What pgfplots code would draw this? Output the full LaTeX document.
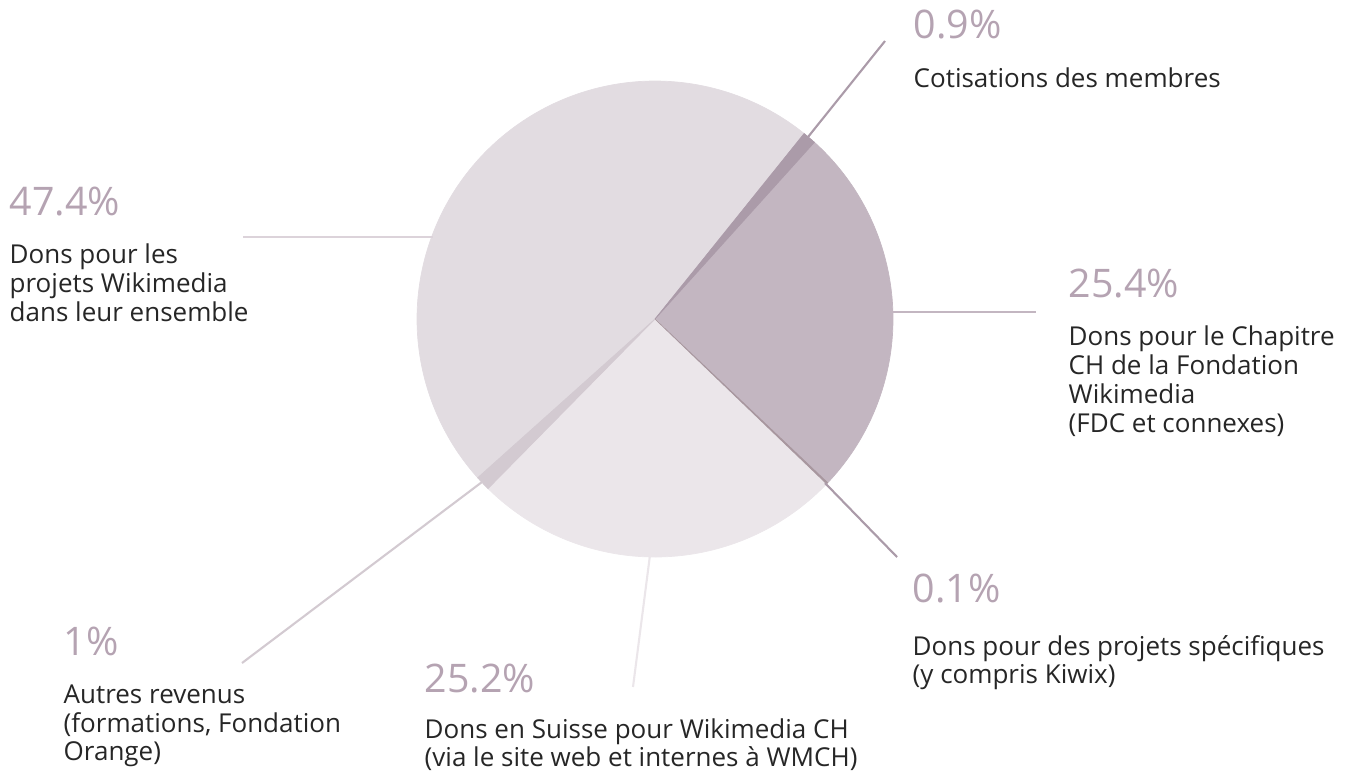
\documentclass[border=0pt]{standalone}
\usepackage{pgfplots}
\pgfplotsset{compat=1.18}
\usepackage{fontspec}
\setmainfont{Open Sans}
\definecolor{cA}{HTML}{AB9BA9}
\definecolor{cB}{HTML}{C3B6C1}
\definecolor{cC}{HTML}{A8979F}
\definecolor{cD}{HTML}{EBE6EA}
\definecolor{cE}{HTML}{D3CAD1}
\definecolor{cF}{HTML}{E2DCE1}
\definecolor{pct}{HTML}{B5A3B2}
\definecolor{txt}{HTML}{262626}
\definecolor{lF}{HTML}{DCD3DA}
\begin{document}
\begin{tikzpicture}
% shares (percent), clockwise from the start angle
\def\vA{0.9}\def\vB{25.4}\def\vC{0.1}\def\vD{25.2}\def\vE{1}\def\vF{47.4}
\def\sA{51.2}
\pgfmathsetmacro\sB{\sA-3.6*\vA}
\pgfmathsetmacro\sC{\sB-3.6*\vB}
\pgfmathsetmacro\sD{\sC-3.6*\vC}
\pgfmathsetmacro\sE{\sD-3.6*\vD}
\pgfmathsetmacro\sF{\sE-3.6*\vE}
\pgfmathsetmacro\sG{\sF-3.6*\vF}
\begin{axis}[scale only axis, width=13.59cm, height=7.78cm,
  xmin=0, xmax=1359, ymin=0, ymax=778, y dir=reverse,
  hide axis, clip=false]
\coordinate (BL) at (0,778);
\coordinate (TR) at (1359,0);
\addplot[fill=cF, draw=cF, line width=0.2pt, domain=\sG:\sF, samples=140] ({655+238*cos(x)},{319-238*sin(x)}) -- (655,319) -- cycle;
\addplot[fill=cB, draw=cB, line width=0.2pt, domain=\sC:\sB, samples=80] ({655+238*cos(x)},{319-238*sin(x)}) -- (655,319) -- cycle;
\addplot[fill=cD, draw=cD, line width=0.2pt, domain=\sE:\sD, samples=80] ({655+238*cos(x)},{319-238*sin(x)}) -- (655,319) -- cycle;
\addplot[fill=cA, draw=cA, line width=0.2pt, domain=\sB:\sA, samples=6] ({655+238*cos(x)},{319-238*sin(x)}) -- (655,319) -- cycle;
\addplot[fill=cC, draw=cC, line width=0.2pt, domain=\sD:\sC, samples=3] ({655+238*cos(x)},{319-238*sin(x)}) -- (655,319) -- cycle;
\addplot[fill=cE, draw=cE, line width=0.2pt, domain=\sF:\sE, samples=6] ({655+238*cos(x)},{319-238*sin(x)}) -- (655,319) -- cycle;
% leader lines
\addplot[cA, line width=0.6pt] coordinates {(808,137) (885,41)};
\addplot[cA, line width=0.6pt] coordinates {(825,483) (897,557)};
\addplot[cE, line width=0.6pt] coordinates {(482,482) (242,663)};
\addplot[cD, line width=0.6pt] coordinates {(650,555) (633,687)};
\addplot[lF, line width=0.6pt] coordinates {(243,237) (433,237)};
\addplot[cB, line width=0.6pt] coordinates {(893,312) (1036,312)};
% labels
\tikzset{P/.style={anchor=base west, inner sep=0pt, text=pct, font=\fontsize{11.2}{13}\selectfont},
         T/.style={anchor=base west, inner sep=0pt, text=txt, font=\fontsize{7.4}{8.8}\selectfont}}
\node[P] at (913,38) {0.9\%};
\node[T] at (913,87) {Cotisations des membres};
\node[P] at (9,215) {47.4\%};
\node[T] at (9,263) {Dons pour les};
\node[T] at (9,292) {projets Wikimedia};
\node[T] at (9,321) {dans leur ensemble};
\node[P] at (1068,297) {25.4\%};
\node[T] at (1068,345) {Dons pour le Chapitre};
\node[T] at (1068,374) {CH de la Fondation};
\node[T] at (1068,403) {Wikimedia};
\node[T] at (1068,432) {(FDC et connexes)};
\node[P] at (912,602) {0.1\%};
\node[T] at (912,655) {Dons pour des projets spécifiques};
\node[T] at (912,683) {(y compris Kiwix)};
\node[P] at (63,655) {1\%};
\node[T] at (63,703) {Autres revenus};
\node[T] at (63,732) {(formations, Fondation};
\node[T] at (63,760) {Orange)};
\node[P] at (424,692) {25.2\%};
\node[T] at (424,738) {Dons en Suisse pour Wikimedia CH};
\node[T] at (424,766) {(via le site web et internes à WMCH)};
\end{axis}
\pgfresetboundingbox
\path[use as bounding box] (BL) rectangle (TR);
\end{tikzpicture}
\end{document}
